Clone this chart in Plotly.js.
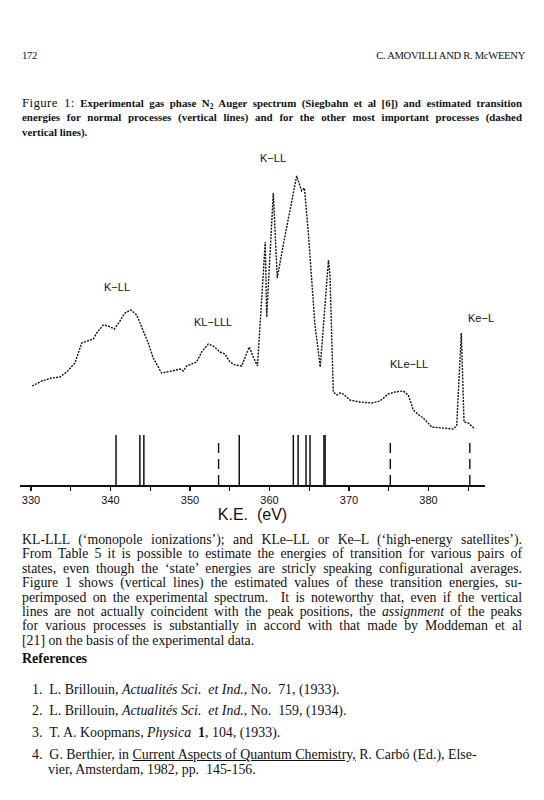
<!DOCTYPE html>
<html>
<head>
<meta charset="utf-8">
<script src="https://cdn.plot.ly/plotly-3.0.1.min.js"></script>
<style>
  html, body { margin:0; padding:0; background:#fff; }
  body { width:544px; height:800px; position:relative; overflow:hidden; color:#111; }
  .abs { position:absolute; }
  .hdr { font-family:"Liberation Serif", serif; font-size:10.6px; letter-spacing:-0.3px; }
  .cap { font-family:"Liberation Serif", serif; font-weight:bold; font-size:10.9px; left:22px; width:500px; }
  .cap div { height:14.4px; line-height:14.4px; }
  .cap .fig { font-weight:normal; font-size:13px; letter-spacing:0.3px; }
  .jl { text-align:justify; text-align-last:justify; white-space:nowrap; }
  .body { font-family:"Liberation Serif", serif; font-size:13.8px; line-height:14.4px; left:22px; width:500px; }
  .refh { font-family:"Liberation Serif", serif; font-weight:bold; font-size:14px; left:22px; }
  .ref { font-family:"Liberation Serif", serif; font-size:13.9px; line-height:15px; }
  #chart { position:absolute; left:0; top:150px; width:544px; height:385px; }
</style>
</head>
<body>
<div class="abs hdr" style="left:22px; top:50px;">172</div>
<div class="abs hdr" style="right:19px; top:50px;">C. AMOVILLI AND R. McWEENY</div>

<div class="abs cap" style="top:96px;">
  <div class="jl"><span class="fig">Figure 1:</span> Experimental gas phase N<span style="font-size:7.5px; position:relative; top:2px;">2</span> Auger spectrum (Siegbahn et al [6]) and estimated transition</div>
  <div class="jl">energies for normal processes (vertical lines) and for the other most important processes (dashed</div>
  <div>vertical lines).</div>
</div>

<div id="chart"></div>

<div class="abs body" style="top:533px;">
  <div class="jl">KL-LLL (‘monopole ionizations’); and KLe–LL or Ke–L (‘high-energy satellites’).</div>
  <div class="jl">From Table 5 it is possible to estimate the energies of transition for various pairs of</div>
  <div class="jl">states, even though the ‘state’ energies are stricly speaking configurational averages.</div>
  <div class="jl">Figure 1 shows (vertical lines) the estimated values of these transition energies, su-</div>
  <div class="jl">perimposed on the experimental spectrum. &nbsp;It is noteworthy that, even if the vertical</div>
  <div class="jl">lines are not actually coincident with the peak positions, the <i>assignment</i> of the peaks</div>
  <div class="jl">for various processes is substantially in accord with that made by Moddeman et al</div>
  <div>[21] on the basis of the experimental data.</div>
</div>

<div class="abs refh" style="top:651px;">References</div>

<div class="abs ref" style="left:32px; top:682px;">1. &nbsp;L. Brillouin, <i>Actualités Sci. &nbsp;et Ind.</i>, No. &nbsp;71, (1933).</div>
<div class="abs ref" style="left:32px; top:703px;">2. &nbsp;L. Brillouin, <i>Actualités Sci. &nbsp;et Ind.</i>, No. &nbsp;159, (1934).</div>
<div class="abs ref" style="left:32px; top:725px;">3. &nbsp;T. A. Koopmans, <i>Physica</i> &nbsp;<b>1</b>, 104, (1933).</div>
<div class="abs ref" style="left:32px; top:747px;">4. &nbsp;G. Berthier, in <u>Current Aspects of Quantum Chemistry,</u> R. Carbó (Ed.), Else-</div>
<div class="abs ref" style="left:48px; top:762px;">vier, Amsterdam, 1982, pp. &nbsp;145-156.</div>

<script>
// Experimental N2 Auger spectrum (kinetic energy in eV, intensity in arbitrary units)
const energy = [330.16,331.35,332.60,333.65,334.49,335.53,336.38,337.01,337.84,338.26,
  339.09,339.72,340.48,341.19,341.82,342.58,343.30,343.92,344.75,345.38,
  346.44,347.70,348.74,349.16,349.58,350.84,351.47,352.30,352.93,353.77,
  354.40,355.03,355.66,356.50,357.46,357.96,358.49,359.47,359.65,360.48,
  360.98,361.80,362.60,363.42,364.05,364.40,364.88,365.72,366.39,367.42,
  367.61,368.03,368.49,368.87,369.28,370.13,371.38,372.86,373.90,374.94,
  375.79,376.83,377.46,378.09,378.93,379.35,380.40,381.86,383.12,383.55,
  384.13,384.47,385.01,385.85];
const intensity = [99,104,107,108,113,122,142,144,146,152,
  160,159,156,164,172,175,170,158,142,127,
  112,114,116,114,119,123,133,141,139,133,
  131,123,120,119,138,128,119,243,168,292,
  207,243,277,309,294,297,253,160,118,225,
  210,93,90,92,91,85,83,82,84,91,
  93,94,90,75,69,67,58,57,56,59,
  152,63,62,56];

// Estimated transition energies (eV)
const normalLines = [340.7,343.7,344.2,356.2,363.0,363.6,364.6,365.1,366.85,367.0];
const otherLines  = [353.6,375.2,385.2];
const normalHeight = 50;
const otherHeight  = 47;

// Peak group labels
const groupLabels = ["K−LL","K−LL","KL−LLL","KLe−LL","Ke−L"];
const groupLabelX = [360.4,340.8,352.9,377.5,386.6];
const groupLabelY = [327,198,163,121,167];

function sticks(xs, h) {
  const x = [], y = [];
  xs.forEach(v => { x.push(v, v, null); y.push(0, h, null); });
  return {x, y};
}
const ns = sticks(normalLines, normalHeight);
const os = sticks(otherLines, otherHeight);

const traces = [
  { x: energy, y: intensity, type:'scatter', mode:'lines',
    line:{color:'#111', width:1.4, dash:'2px,1.2px'}, hoverinfo:'skip' },
  { x: ns.x, y: ns.y, type:'scatter', mode:'lines',
    line:{color:'#111', width:1.5}, hoverinfo:'skip' },
  { x: os.x, y: os.y, type:'scatter', mode:'lines',
    line:{color:'#111', width:1.4, dash:'10px,6px'}, hoverinfo:'skip' }
];

const annotations = groupLabels.map((t,i) => ({
  x: groupLabelX[i], y: groupLabelY[i], xref:'x', yref:'y', text:t,
  showarrow:false, font:{family:'Liberation Sans, Arial, sans-serif', size:11, color:'#111'}
}));

const layout = {
  width:544, height:385,
  margin:{l:20, r:59, t:5, b:50},
  paper_bgcolor:'rgba(0,0,0,0)', plot_bgcolor:'rgba(0,0,0,0)',
  showlegend:false,
  xaxis:{
    range:[328.62, 387.11], showgrid:false, zeroline:false,
    showline:true, linecolor:'#111', linewidth:1.6,
    ticks:'outside', ticklen:4, tickwidth:1.2, tickcolor:'#111',
    tick0:330, dtick:10,
    minor:{dtick:5, tick0:330, ticks:'outside', ticklen:4, tickwidth:1.2, tickcolor:'#111', showgrid:false},
    tickfont:{family:'Liberation Sans, Arial, sans-serif', size:11, color:'#111'},
    title:{text:'K.E.  (eV)', standoff:4, font:{family:'Liberation Sans, Arial, sans-serif', size:16, color:'#111'}}
  },
  yaxis:{ range:[0,330], visible:false, showgrid:false, zeroline:false },
  annotations: annotations
};

Plotly.newPlot('chart', traces, layout, {displayModeBar:false, staticPlot:true});
</script>
</body>
</html>
